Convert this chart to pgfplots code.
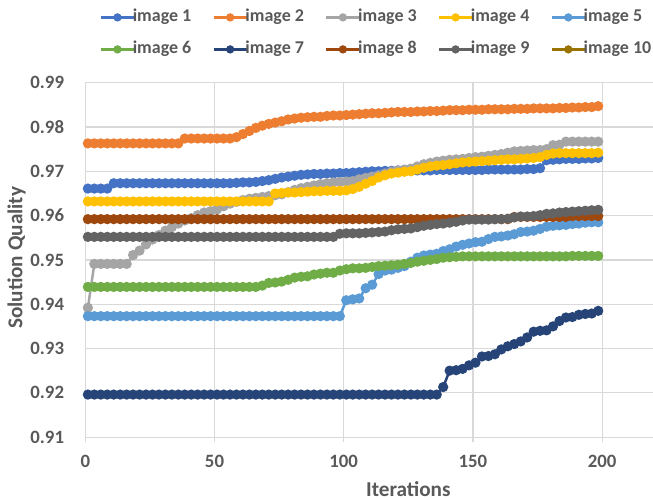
\documentclass[border=0pt]{standalone}
\usepackage{fontspec}
\setmainfont{Carlito}
\usepackage{pgfplots}
\usepackage{pgfplotstable}
\pgfplotsset{compat=1.18}

\definecolor{c1}{HTML}{4472C4}
\definecolor{c2}{HTML}{ED7D31}
\definecolor{c3}{HTML}{A5A5A5}
\definecolor{c4}{HTML}{FFC000}
\definecolor{c5}{HTML}{5B9BD5}
\definecolor{c6}{HTML}{70AD47}
\definecolor{c7}{HTML}{264478}
\definecolor{c8}{HTML}{9E480E}
\definecolor{c9}{HTML}{636363}
\definecolor{c10}{HTML}{997300}
\definecolor{txtgray}{HTML}{595959}
\definecolor{gridgray}{HTML}{D9D9D9}

% legend text, pulled a little towards its line
\newcommand{\entry}[1]{\makebox[33pt][l]{\hspace*{-2.5pt}#1}}

% solution quality per image
\pgfplotstableread{
x     s1     s2     s3     s4     s5     s6     s7     s8     s9
1     0.9661 0.9763 0.9392 0.9632 0.9373 0.9439 0.9196 0.9592 0.9552
3.5   0.9661 0.9763 0.9491 0.9632 0.9373 0.9439 0.9196 0.9592 0.9552
6     0.9661 0.9763 0.9491 0.9632 0.9373 0.9439 0.9196 0.9592 0.9552
8.5   0.9661 0.9763 0.9491 0.9632 0.9373 0.9439 0.9196 0.9592 0.9552
11    0.9673 0.9763 0.9491 0.9632 0.9373 0.9439 0.9196 0.9592 0.9552
13.5  0.9673 0.9763 0.9491 0.9632 0.9373 0.9439 0.9196 0.9592 0.9552
16    0.9673 0.9763 0.9491 0.9632 0.9373 0.9439 0.9196 0.9592 0.9552
18.5  0.9673 0.9763 0.9511 0.9632 0.9373 0.9439 0.9196 0.9592 0.9552
21    0.9673 0.9763 0.9521 0.9632 0.9373 0.9439 0.9196 0.9592 0.9552
23.5  0.9673 0.9763 0.9535 0.9632 0.9373 0.9439 0.9196 0.9592 0.9552
26    0.9673 0.9763 0.9546 0.9632 0.9373 0.9439 0.9196 0.9592 0.9552
28.5  0.9673 0.9763 0.9556 0.9632 0.9373 0.9439 0.9196 0.9592 0.9552
31    0.9673 0.9763 0.9566 0.9632 0.9373 0.9439 0.9196 0.9592 0.9552
33.5  0.9673 0.9763 0.9574 0.9632 0.9373 0.9439 0.9196 0.9592 0.9552
36    0.9673 0.9763 0.9582 0.9632 0.9373 0.9439 0.9196 0.9592 0.9552
38.5  0.9673 0.9774 0.9589 0.9632 0.9373 0.9439 0.9196 0.9592 0.9552
41    0.9673 0.9774 0.9594 0.9632 0.9373 0.9439 0.9196 0.9592 0.9552
43.5  0.9673 0.9774 0.9601 0.9632 0.9373 0.9439 0.9196 0.9592 0.9552
46    0.9673 0.9774 0.9607 0.9632 0.9373 0.9439 0.9196 0.9592 0.9552
48.5  0.9673 0.9774 0.9610 0.9632 0.9373 0.9439 0.9196 0.9592 0.9552
51    0.9673 0.9774 0.9614 0.9632 0.9373 0.9439 0.9196 0.9592 0.9552
53.5  0.9673 0.9774 0.9621 0.9632 0.9373 0.9439 0.9196 0.9592 0.9552
56    0.9673 0.9774 0.9627 0.9632 0.9373 0.9439 0.9196 0.9592 0.9552
58.5  0.9674 0.9777 0.9631 0.9632 0.9373 0.9439 0.9196 0.9592 0.9552
61    0.9675 0.9784 0.9635 0.9632 0.9373 0.9439 0.9196 0.9592 0.9552
63.5  0.9675 0.9791 0.9638 0.9632 0.9373 0.9439 0.9196 0.9592 0.9552
66    0.9676 0.9798 0.9640 0.9632 0.9373 0.9439 0.9196 0.9592 0.9552
68.5  0.9678 0.9803 0.9642 0.9632 0.9373 0.9442 0.9196 0.9592 0.9552
71    0.9680 0.9807 0.9644 0.9632 0.9373 0.9448 0.9196 0.9592 0.9552
73.5  0.9683 0.9810 0.9646 0.9650 0.9373 0.9449 0.9196 0.9592 0.9552
76    0.9686 0.9813 0.9648 0.9651 0.9373 0.9451 0.9196 0.9592 0.9552
78.5  0.9688 0.9817 0.9653 0.9652 0.9373 0.9455 0.9196 0.9592 0.9552
81    0.9690 0.9819 0.9658 0.9652 0.9373 0.9460 0.9196 0.9592 0.9552
83.5  0.9692 0.9821 0.9662 0.9653 0.9373 0.9462 0.9196 0.9592 0.9552
86    0.9693 0.9822 0.9665 0.9654 0.9373 0.9463 0.9196 0.9592 0.9552
88.5  0.9694 0.9823 0.9668 0.9655 0.9373 0.9467 0.9196 0.9592 0.9552
91    0.9694 0.9823 0.9671 0.9655 0.9373 0.9469 0.9196 0.9592 0.9552
93.5  0.9695 0.9825 0.9673 0.9656 0.9373 0.9471 0.9196 0.9592 0.9552
96    0.9695 0.9826 0.9675 0.9656 0.9373 0.9471 0.9196 0.9592 0.9552
98.5  0.9696 0.9826 0.9676 0.9656 0.9373 0.9476 0.9196 0.9592 0.9559
101   0.9696 0.9827 0.9677 0.9657 0.9409 0.9479 0.9196 0.9592 0.9560
103.5 0.9697 0.9828 0.9678 0.9660 0.9411 0.9481 0.9196 0.9592 0.9560
106   0.9698 0.9829 0.9682 0.9665 0.9413 0.9481 0.9196 0.9592 0.9560
108.5 0.9699 0.9830 0.9685 0.9672 0.9436 0.9482 0.9196 0.9592 0.9561
111   0.9700 0.9831 0.9688 0.9678 0.9444 0.9484 0.9196 0.9592 0.9562
113.5 0.9700 0.9831 0.9691 0.9686 0.9468 0.9486 0.9196 0.9592 0.9563
116   0.9701 0.9832 0.9695 0.9691 0.9476 0.9487 0.9196 0.9592 0.9564
118.5 0.9701 0.9833 0.9699 0.9695 0.9478 0.9488 0.9196 0.9592 0.9567
121   0.9702 0.9834 0.9702 0.9697 0.9482 0.9489 0.9196 0.9592 0.9569
123.5 0.9702 0.9834 0.9704 0.9699 0.9486 0.9491 0.9196 0.9592 0.9570
126   0.9702 0.9834 0.9706 0.9700 0.9496 0.9493 0.9196 0.9592 0.9571
128.5 0.9702 0.9835 0.9711 0.9704 0.9505 0.9496 0.9196 0.9592 0.9574
131   0.9702 0.9835 0.9716 0.9708 0.9510 0.9498 0.9196 0.9592 0.9577
133.5 0.9702 0.9836 0.9719 0.9711 0.9512 0.9500 0.9196 0.9592 0.9579
136   0.9703 0.9836 0.9722 0.9713 0.9514 0.9502 0.9196 0.9592 0.9581
138.5 0.9703 0.9837 0.9724 0.9714 0.9520 0.9505 0.9213 0.9592 0.9582
141   0.9703 0.9838 0.9726 0.9716 0.9524 0.9506 0.9250 0.9592 0.9584
143.5 0.9703 0.9838 0.9727 0.9718 0.9530 0.9507 0.9251 0.9592 0.9586
146   0.9703 0.9838 0.9728 0.9720 0.9534 0.9508 0.9254 0.9592 0.9589
148.5 0.9703 0.9839 0.9730 0.9721 0.9537 0.9508 0.9262 0.9592 0.9591
151   0.9703 0.9839 0.9732 0.9722 0.9540 0.9508 0.9268 0.9592 0.9591
153.5 0.9703 0.9839 0.9733 0.9723 0.9541 0.9508 0.9282 0.9592 0.9591
156   0.9704 0.9840 0.9735 0.9724 0.9547 0.9508 0.9283 0.9592 0.9591
158.5 0.9704 0.9840 0.9737 0.9725 0.9552 0.9508 0.9287 0.9592 0.9592
161   0.9704 0.9840 0.9739 0.9726 0.9553 0.9508 0.9298 0.9592 0.9592
163.5 0.9704 0.9840 0.9742 0.9727 0.9555 0.9508 0.9305 0.9592 0.9593
166   0.9704 0.9841 0.9745 0.9727 0.9558 0.9508 0.9310 0.9597 0.9596
168.5 0.9704 0.9841 0.9746 0.9728 0.9563 0.9508 0.9316 0.9597 0.9598
171   0.9705 0.9841 0.9747 0.9729 0.9564 0.9508 0.9325 0.9597 0.9598
173.5 0.9705 0.9842 0.9748 0.9730 0.9566 0.9508 0.9338 0.9597 0.9599
176   0.9707 0.9842 0.9748 0.9732 0.9570 0.9508 0.9340 0.9597 0.9601
178.5 0.9725 0.9842 0.9750 0.9737 0.9575 0.9508 0.9341 0.9597 0.9604
181   0.9726 0.9842 0.9759 0.9740 0.9577 0.9508 0.9350 0.9597 0.9605
183.5 0.9727 0.9843 0.9760 0.9741 0.9578 0.9508 0.9362 0.9597 0.9607
186   0.9728 0.9843 0.9767 0.9741 0.9579 0.9508 0.9370 0.9597 0.9608
188.5 0.9728 0.9844 0.9767 0.9741 0.9581 0.9509 0.9371 0.9599 0.9609
191   0.9728 0.9844 0.9767 0.9741 0.9582 0.9509 0.9376 0.9599 0.9610
193.5 0.9729 0.9845 0.9767 0.9741 0.9584 0.9509 0.9378 0.9599 0.9611
196   0.9729 0.9845 0.9767 0.9741 0.9585 0.9509 0.9379 0.9599 0.9612
198.5 0.9730 0.9847 0.9767 0.9742 0.9585 0.9509 0.9385 0.9599 0.9613
}\quality

\begin{document}
\begin{tikzpicture}
\begin{axis}[
    scale only axis,
    width=323pt, height=177.2pt,
    xmin=0, xmax=250, ymin=0.91, ymax=0.99,
    xtick={0,50,100,150,200},
    ytick={0.91,0.92,0.93,0.94,0.95,0.96,0.97,0.98,0.99},
    axis lines*=left,
    axis line style={draw=none},
    grid=major,
    major grid style={gridgray, line width=0.6pt},
    tick align=outside,
    major tick length=2.6pt,
    xtick style={gridgray, line width=0.6pt},
    ytick style={draw=none},
    /pgf/number format/assume math mode=true,
    ticklabel style={font=\fontsize{9.4}{11}\selectfont\bfseries, text=txtgray},
    yticklabel style={/pgf/number format/fixed, /pgf/number format/fixed zerofill,
        /pgf/number format/precision=2, xshift=-4.5pt},
    xticklabel style={yshift=-3pt},
    xlabel={Iterations},
    ylabel={Solution Quality},
    label style={font=\fontsize{10.6}{12}\selectfont\bfseries, text=txtgray},
    xlabel style={at={(axis description cs:0.5,0)}, anchor=center, yshift=-26pt},
    ylabel style={at={(axis description cs:0,0.506)}, anchor=center, yshift=34.4pt},
    every axis plot/.append style={line width=1.25pt, mark=*, mark size=1.9pt},
    legend columns=5,
    legend cell align=left,
    legend style={draw=none, fill=none, inner sep=0pt,
        at={(axis description cs:0,1)}, anchor=north west,
        xshift=7.1pt, yshift=37.1pt,
        font=\fontsize{9}{11}\selectfont\bfseries, text=txtgray,
        row sep=7.5pt,
        nodes={inner sep=0pt, text height=6.5pt, text depth=2pt},
        /tikz/every odd column/.append style={column sep=1.35pt},
        /tikz/every even column/.append style={column sep=4.4pt}},
    legend image code/.code={
        \draw[mark repeat=2, mark phase=2, mark size=1.5pt, line width=1.1pt]
        plot coordinates {(0pt,0pt) (8.25pt,0pt) (16.5pt,0pt)};},
]
\addplot[c1, mark options={fill=c1}] table[x=x, y=s1] {\quality};
\addlegendentry{\entry{image 1}}
\addplot[c2, mark options={fill=c2}] table[x=x, y=s2] {\quality};
\addlegendentry{\entry{image 2}}
\addplot[c3, mark options={fill=c3}] table[x=x, y=s3] {\quality};
\addlegendentry{\entry{image 3}}
\addplot[c4, mark options={fill=c4}] table[x=x, y=s4] {\quality};
\addlegendentry{\entry{image 4}}
\addplot[c5, mark options={fill=c5}] table[x=x, y=s5] {\quality};
\addlegendentry{\entry{image 5}}
\addplot[c6, mark options={fill=c6}] table[x=x, y=s6] {\quality};
\addlegendentry{\entry{image 6}}
\addplot[c7, mark options={fill=c7}] table[x=x, y=s7] {\quality};
\addlegendentry{\entry{image 7}}
\addplot[c8, mark options={fill=c8}] table[x=x, y=s8] {\quality};
\addlegendentry{\entry{image 8}}
\addplot[c9, mark options={fill=c9}] table[x=x, y=s9] {\quality};
\addlegendentry{\entry{image 9}}
% image 10 shows no points in the chart, only its legend entry
\addlegendimage{c10, line width=1.25pt, mark=*, mark options={fill=c10}}
\addlegendentry{\entry{image 10}}
\end{axis}
\pgfresetboundingbox
\useasboundingbox (-42.65pt,-31pt) rectangle (283.85pt,218.55pt);
\end{tikzpicture}
\end{document}
